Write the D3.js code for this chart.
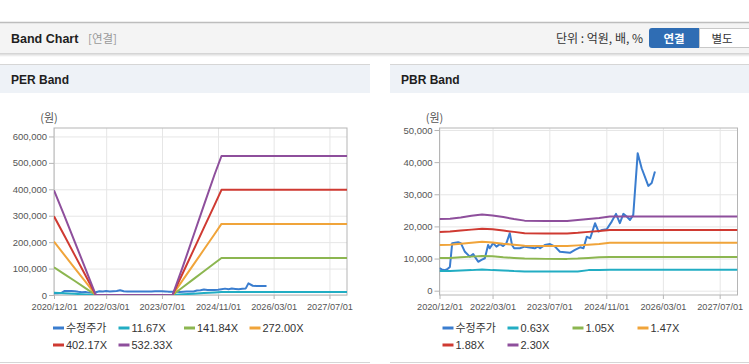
<!DOCTYPE html>
<html>
<head>
<meta charset="utf-8">
<script src="https://cdn.jsdelivr.net/npm/d3@7"></script>
<style>
  body { margin: 0; background: #fff; }
  svg { display: block; font-family: "Liberation Sans", Arial, sans-serif; }
  .kr { font-family: "Noto Sans CJK KR", sans-serif; }
</style>
</head>
<body>
<svg id="chart" width="749" height="364"></svg>
<script>

// ---- data ----
var xTickLabels = ["2020/12/01", "2022/03/01", "2023/07/01", "2024/11/01", "2026/03/01", "2027/07/01"];
var xRange = ["2020/12/01", "2027/12/01"];

// PER band
var perBandDates = ["2020-12-01", "2021-03-01", "2021-06-01", "2021-09-01", "2021-12-01", "2023-10-01",
                    "2024-01-01", "2024-04-01", "2024-07-01", "2024-10-01", "2024-12-01", "2027-12-01"];
var perX1 = [8700, 6500, 4400, 2200, 0, 0, 2500, 5000, 7400, 9900, 11500, 11500];
var perX2 = [105000, 79000, 53000, 26000, 0, 0, 30000, 60000, 90000, 120000, 140000, 140000];
var perX3 = [202000, 152000, 101000, 51000, 0, 0, 58000, 115000, 172000, 230000, 269000, 269000];
var perX4 = [298000, 225000, 150000, 75000, 0, 0, 85000, 170000, 255000, 340000, 398000, 398000];
var perX5 = [396000, 300000, 200000, 100000, 0, 0, 110000, 225000, 340000, 455000, 526000, 526000];
var perMultiples = ["11.67X", "141.84X", "272.00X", "402.17X", "532.33X"];
var perYTicks = [0, 100000, 200000, 300000, 400000, 500000, 600000];

var perPriceDates = ["2020-12-01", "2021-01-01", "2021-02-01", "2021-03-01", "2021-04-01", "2021-05-01",
  "2021-06-01", "2021-07-01", "2021-08-01", "2021-09-01", "2021-10-01", "2021-11-01", "2021-12-01",
  "2022-01-01", "2022-02-01", "2022-03-01", "2022-04-01", "2022-05-01", "2022-06-01", "2022-07-01",
  "2022-08-01", "2022-09-01", "2022-10-01", "2022-11-01", "2022-12-01", "2023-01-01", "2023-02-01",
  "2023-03-01", "2023-04-01", "2023-05-01", "2023-06-01", "2023-07-01", "2023-08-01", "2023-09-01",
  "2023-10-01", "2023-11-01", "2023-12-01", "2024-01-01", "2024-02-01", "2024-03-01", "2024-04-01",
  "2024-05-01", "2024-06-01", "2024-07-01", "2024-08-01", "2024-09-01", "2024-10-01", "2024-11-01",
  "2024-12-01", "2025-01-01", "2025-02-01", "2025-03-01", "2025-04-01", "2025-05-01", "2025-06-01",
  "2025-07-01", "2025-07-24", "2025-08-31", "2025-10-01", "2025-12-29"];
var perPrice = [7000, 6500, 7500, 15000, 15000, 15000,
  14500, 12000, 10500, 11000, 9000, 9600, 10100,
  14200, 13500, 14800, 13700, 14500, 14800, 17900,
  14000, 13200, 13200, 13700, 13500, 13300, 13200,
  13700, 13300, 14200, 14300, 14500, 13700, 12200,
  12100, 11900, 11800, 12600, 13300, 13500, 13200,
  16800, 17900, 21000, 18600, 18900, 19100, 19800,
  22000, 24100, 22000, 24300, 23100, 22000, 23600,
  25000, 44000, 35000, 34000, 34000];

// PBR band
var pbrBandDates = ["2020-12-01", "2021-03-01", "2021-06-01", "2021-09-01", "2021-12-01", "2022-03-01",
                    "2022-06-01", "2022-09-01", "2022-12-01", "2023-06-01", "2023-12-01", "2024-03-01",
                    "2024-06-01", "2024-09-01", "2024-12-01", "2027-12-01"];
var pbrX1 = [6100, 6100, 6300, 6400, 6600, 6400, 6300, 6100, 6000, 5950, 5950, 6000, 6400, 6400, 6500, 6500];
var pbrX2 = [10200, 10200, 10400, 10600, 10800, 10700, 10400, 10200, 10000, 9900, 9900, 10000, 10200, 10400, 10500, 10500];
var pbrX3 = [14200, 14300, 14600, 14900, 15200, 15000, 14600, 14300, 14000, 13900, 13900, 14100, 14300, 14500, 14950, 14950];
var pbrX4 = [18300, 18400, 18700, 19000, 19300, 19100, 18700, 18300, 17900, 17800, 17800, 18000, 18300, 18600, 18900, 18900];
var pbrX5 = [22300, 22400, 22800, 23300, 23700, 23400, 22900, 22300, 21800, 21700, 21700, 22000, 22300, 22600, 23050, 23050];
var pbrMultiples = ["0.63X", "1.05X", "1.47X", "1.88X", "2.30X"];
var pbrYTicks = [0, 10000, 20000, 30000, 40000, 50000];

var pbrPriceDates = ["2020-12-01", "2020-12-20", "2021-01-16", "2021-02-10", "2021-02-28", "2021-03-20",
  "2021-05-10", "2021-06-02", "2021-07-07", "2021-08-18", "2021-09-16", "2021-09-30", "2021-10-29",
  "2021-11-26", "2021-12-25", "2022-01-22", "2022-02-05", "2022-03-06", "2022-04-03", "2022-05-03",
  "2022-05-31", "2022-06-28", "2022-07-27", "2022-08-15", "2022-09-02", "2022-10-21", "2022-12-03",
  "2023-02-26", "2023-03-25", "2023-04-13", "2023-05-23", "2023-07-07", "2023-08-19", "2023-09-30",
  "2023-12-25", "2024-02-06", "2024-03-21", "2024-04-19", "2024-05-17", "2024-06-15", "2024-06-30",
  "2024-07-27", "2024-08-26", "2024-09-25", "2024-11-04", "2024-12-17", "2025-01-23", "2025-02-25",
  "2025-03-27", "2025-04-25", "2025-05-23", "2025-06-20", "2025-07-28", "2025-08-31", "2025-10-27",
  "2025-11-25", "2025-12-23"];
var pbrPrice = [7000, 6600, 6400, 6800, 7400, 14800,
  15100, 14800, 12100, 10600, 11400, 10600, 9000,
  9600, 10100, 14200, 13200, 14800, 13700, 14500,
  13900, 14800, 17900, 14200, 13200, 13200, 13700,
  13200, 13700, 13200, 14200, 14500, 13700, 12100,
  11800, 12700, 13500, 13200, 16800, 16300, 17900,
  21000, 18400, 18900, 19100, 21500, 23900, 21000,
  23900, 23100, 22000, 23600, 42800, 38100, 32600,
  33500, 37100];

var priceName = "수정주가";
var colors = ["#3a7dcf", "#22adc3", "#8cb650", "#f0a43a", "#cf3a32", "#8e4f9c"];

// ---- drawing ----
var svg = d3.select("#chart");
var parseDay = d3.timeParse("%Y-%m-%d");
var parseTick = d3.timeParse("%Y/%m/%d");

// top bar
svg.append("rect").attr("x", 0).attr("y", 22).attr("width", 749).attr("height", 31).attr("fill", "#f4f4f4");
svg.append("line").attr("x1", 0).attr("x2", 749).attr("y1", 22.5).attr("y2", 22.5)
  .attr("stroke", "#bdbdbd").attr("stroke-width", 1.5);
var shade = svg.append("defs").append("linearGradient").attr("id", "shade")
  .attr("x1", 0).attr("y1", 0).attr("x2", 0).attr("y2", 1);
shade.append("stop").attr("offset", 0).attr("stop-color", "#cfcfcf");
shade.append("stop").attr("offset", 1).attr("stop-color", "#ffffff");
svg.append("rect").attr("x", 0).attr("y", 53).attr("width", 749).attr("height", 4).attr("fill", "url(#shade)");

svg.append("text").attr("x", 11).attr("y", 43).attr("font-size", "12.5px").attr("font-weight", "bold")
  .attr("fill", "#1e1e1e").text("Band Chart");
svg.append("text").attr("class", "kr").attr("x", 88).attr("y", 43).attr("font-size", "11.5px")
  .attr("fill", "#999").text("[연결]");
svg.append("text").attr("class", "kr").attr("x", 643).attr("y", 42.5).attr("font-size", "12px")
  .attr("text-anchor", "end").attr("fill", "#333").text("단위 : 억원, 배, %");

svg.append("path").attr("d", "M652,28 H699 V48 H652 Q649,48 649,45 V31 Q649,28 652,28 Z").attr("fill", "#2f6db4");
svg.append("text").attr("class", "kr").attr("x", 674).attr("y", 42.5).attr("text-anchor", "middle")
  .attr("font-size", "11.5px").attr("font-weight", "bold").attr("fill", "#fff").text("연결");
svg.append("rect").attr("x", 699.5).attr("y", 28.5).attr("width", 52).attr("height", 19)
  .attr("fill", "#fff").attr("stroke", "#c8c8c8");
svg.append("text").attr("class", "kr").attr("x", 722).attr("y", 42.5).attr("text-anchor", "middle")
  .attr("font-size", "11.5px").attr("fill", "#333").text("별도");

var drawPanel = function(px, pw, title) {
  var g = svg.append("g");
  g.append("rect").attr("x", px).attr("y", 64).attr("width", pw).attr("height", 29).attr("fill", "#eef2f7");
  g.append("line").attr("x1", px).attr("x2", px + pw).attr("y1", 64.5).attr("y2", 64.5).attr("stroke", "#d6d6d6");
  g.append("line").attr("x1", px).attr("x2", px + pw).attr("y1", 362.5).attr("y2", 362.5).attr("stroke", "#d6d6d6");
  g.append("text").attr("x", px + 11).attr("y", 84).attr("font-size", "12px").attr("font-weight", "bold")
    .attr("fill", "#1e1e1e").text(title);
};
drawPanel(0, 370, "PER Band");
drawPanel(390, 359, "PBR Band");

var drawBand = function(cfg) {
  var x = d3.scaleTime().domain(xRange.map(parseTick)).range([cfg.left, cfg.right]);
  var y = d3.scaleLinear().domain(cfg.yDomain).range([cfg.bottom, cfg.top]);
  var w = cfg.right - cfg.left;
  var xTicks = xTickLabels.map(parseTick);

  var g = svg.append("g");

  // grid
  g.append("g").attr("transform", "translate(" + cfg.left + ",0)")
    .call(d3.axisLeft(y).tickValues(cfg.yTicks).tickSize(-w).tickFormat(""))
    .call(function(s) { s.select(".domain").remove(); s.selectAll("line").attr("stroke", "#e6e6e6"); });
  g.append("g").attr("transform", "translate(0," + cfg.top + ")")
    .call(d3.axisBottom(x).tickValues(xTicks).tickSize(cfg.bottom - cfg.top).tickFormat(""))
    .call(function(s) { s.select(".domain").remove(); s.selectAll("line").attr("stroke", "#e6e6e6"); });

  // axes
  var ya = g.append("g").attr("transform", "translate(" + cfg.left + ",0)")
    .call(d3.axisLeft(y).tickValues(cfg.yTicks).tickSize(5).tickPadding(2).tickFormat(d3.format(",")));
  ya.select(".domain").remove();
  ya.selectAll("line").attr("stroke", "#b5b5b5");
  ya.selectAll("text").attr("font-family", "Liberation Sans, Arial, sans-serif").attr("font-size", "9.5px").attr("fill", "#555");

  var xa = g.append("g").attr("transform", "translate(0," + cfg.bottom + ")")
    .call(d3.axisBottom(x).tickValues(xTicks).tickSize(4).tickPadding(4).tickFormat(d3.timeFormat("%Y/%m/%d")));
  xa.select(".domain").remove();
  xa.selectAll("line").attr("stroke", "#b5b5b5");
  xa.selectAll("text").attr("font-family", "Liberation Sans, Arial, sans-serif").attr("font-size", "9.2px").attr("fill", "#555");

  g.append("rect").attr("x", cfg.left).attr("y", cfg.top).attr("width", w).attr("height", cfg.bottom - cfg.top)
    .attr("fill", "none").attr("stroke", "#b5b5b5");

  g.append("text").attr("class", "kr").attr("x", cfg.left - 5).attr("y", cfg.top - 6)
    .attr("text-anchor", "middle").attr("font-size", "11px").attr("fill", "#555").text("(원)");

  var line = d3.line().x(function(d) { return x(d[0]); }).y(function(d) { return y(d[1]); });

  var clipId = "clip" + Math.round(cfg.left);
  svg.append("clipPath").attr("id", clipId).append("rect")
    .attr("x", cfg.left).attr("y", cfg.top).attr("width", w).attr("height", cfg.bottom - cfg.top);
  var plot = g.append("g").attr("clip-path", "url(#" + clipId + ")");

  var priceData = cfg.priceDates.map(function(d, i) { return [parseDay(d), cfg.price[i]]; });
  plot.append("path").datum(priceData).attr("d", line).attr("fill", "none")
    .attr("stroke", colors[0]).attr("stroke-width", 2).attr("stroke-linejoin", "round");

  cfg.bands.forEach(function(vals, k) {
    var data = cfg.bandDates.map(function(d, i) { return [parseDay(d), vals[i]]; });
    plot.append("path").datum(data).attr("d", line).attr("fill", "none")
      .attr("stroke", colors[k + 1]).attr("stroke-width", 2).attr("stroke-linejoin", "round");
  });

  // legend
  var names = [priceName].concat(cfg.names);
  var lg = g.append("g");
  var item = lg.selectAll("g").data(names).enter().append("g")
    .attr("transform", function(d, i) {
      return "translate(" + (cfg.legendX + (i % 4) * cfg.legendStep) + "," + (328 + Math.floor(i / 4) * 17) + ")";
    });
  item.append("line").attr("x1", 0).attr("x2", 11).attr("y1", 0).attr("y2", 0)
    .attr("stroke", function(d, i) { return colors[i]; }).attr("stroke-width", 3);
  item.append("text").attr("class", function(d, i) { return i == 0 ? "kr" : null; })
    .attr("x", 13).attr("y", 4).attr("font-size", "11px").attr("fill", "#333").text(function(d) { return d; });
};

drawBand({
  left: 54, right: 347, top: 128, bottom: 295,
  yDomain: [0, 632000], yTicks: perYTicks,
  bandDates: perBandDates, bands: [perX1, perX2, perX3, perX4, perX5], names: perMultiples,
  priceDates: perPriceDates, price: perPrice,
  legendX: 53, legendStep: 65.5
});

drawBand({
  left: 439.5, right: 737.5, top: 128, bottom: 295,
  yDomain: [-1340, 50620], yTicks: pbrYTicks,
  bandDates: pbrBandDates, bands: [pbrX1, pbrX2, pbrX3, pbrX4, pbrX5], names: pbrMultiples,
  priceDates: pbrPriceDates, price: pbrPrice,
  legendX: 442.5, legendStep: 65
});

</script>
</body>
</html>
